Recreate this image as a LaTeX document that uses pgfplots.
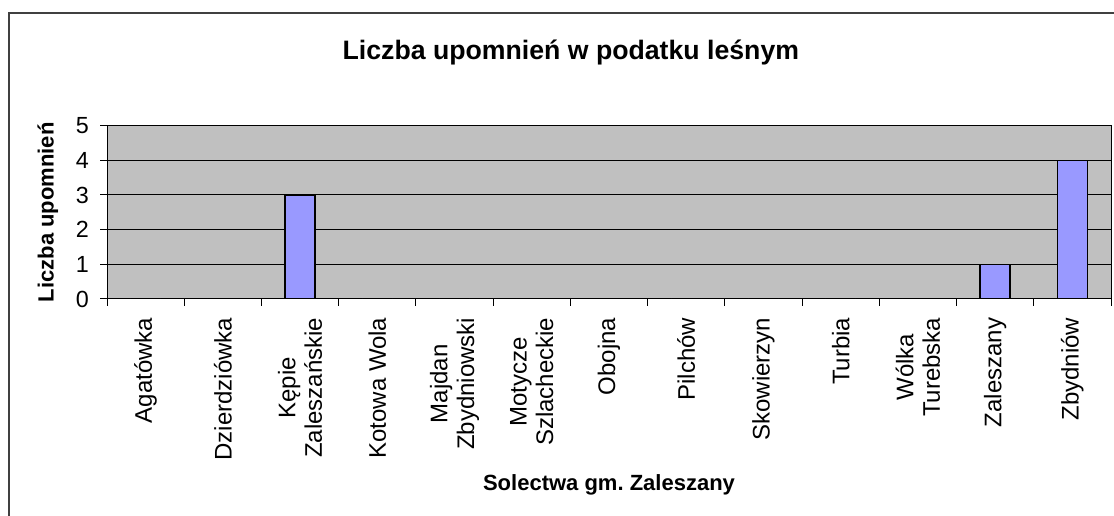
\documentclass[border=0pt]{standalone}
\usepackage{pgfplots}
\pgfplotsset{compat=1.18}
\usepackage{fontspec}
\setmainfont{Liberation Sans}
\definecolor{plotbg}{HTML}{C0C0C0}
\definecolor{barfill}{HTML}{9999FF}
\definecolor{frame}{HTML}{404040}
\begin{document}
\begin{tikzpicture}
\useasboundingbox (0,0) rectangle (835.5pt,387pt);
\draw[frame, line width=1.5pt] (6.75pt,-10pt) -- (6.75pt,377.25pt) -- (860pt,377.25pt);
\begin{axis}[
    at={(80.25pt,162.75pt)},
    anchor=south west,
    scale only axis,
    width=753pt,
    height=130pt,
    ybar,
    bar width=0.388,
    xmin=-0.5, xmax=12.5,
    ymin=0, ymax=5,
    xtick={0,...,12},
    xticklabels={Agatówka, Dzierdziówka, {Kępie\\Zaleszańskie}, Kotowa Wola,
        {Majdan\\Zbydniowski}, {Motycze\\Szlacheckie}, Obojna, Pilchów,
        Skowierzyn, Turbia, {Wólka\\Turebska}, Zaleszany, Zbydniów},
    ytick={0,1,...,5},
    minor xtick={-0.5,0.5,...,12.5},
    minor ytick={0,1,...,5},
    major tick length=0pt,
    minor tick length=5pt,
    tick align=outside,
    xtick pos=bottom,
    ytick pos=left,
    tick style={black, line width=0.75pt},
    ymajorgrids,
    major grid style={black, line width=0.75pt},
    axis background/.style={fill=plotbg},
    axis line style={black, line width=0.75pt},
    /pgf/number format/assume math mode=true,
    xticklabel style={font=\fontsize{18}{20}\selectfont,
        rotate=90, anchor=east, align=center, xshift=-10.5pt},
    yticklabel style={font=\fontsize{17.5}{20}\selectfont, xshift=-10pt},
    title={Liczba upomnień w podatku leśnym},
    title style={font=\fontsize{20}{24}\selectfont\bfseries,
        at={(axis description cs:0.462,1.378)}, anchor=center},
    xlabel={Solectwa gm.\ Zaleszany},
    ylabel={Liczba upomnień},
    xlabel style={font=\fontsize{16.5}{20}\selectfont\bfseries,
        at={(axis description cs:0.5,-1.073)}, anchor=center},
    ylabel style={font=\fontsize{16.5}{20}\selectfont\bfseries,
        at={(axis description cs:-0.0588,0.5)}, anchor=center, rotate=0},
]
\addplot[fill=barfill, draw=black, line width=1.1pt] coordinates {
    (0,0) (1,0) (2,3) (3,0) (4,0) (5,0) (6,0)
    (7,0) (8,0) (9,0) (10,0) (11,1) (12,4)
};
\end{axis}
\end{tikzpicture}
\end{document}
